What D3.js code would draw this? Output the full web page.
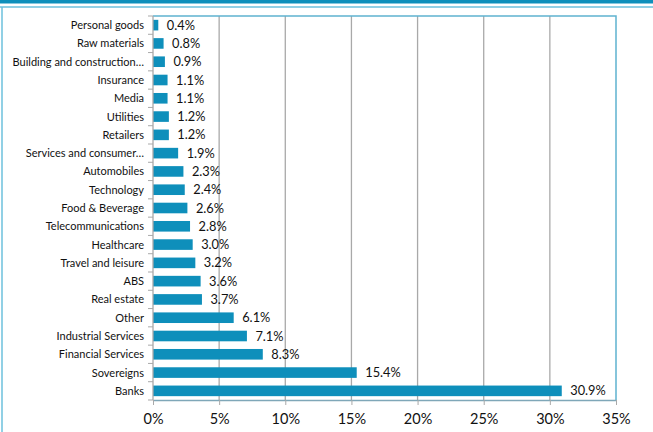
<!DOCTYPE html>
<html>
<head>
<meta charset="utf-8">
<script src="https://cdn.jsdelivr.net/npm/d3@7"></script>
<style>
  body { margin: 0; background: #fff; }
  text { font-family: Lato, "Open Sans", sans-serif; fill: #111; }
</style>
</head>
<body>
<div class="canvas"></div>
<script>
const categories = ['Personal goods', 'Raw materials', 'Building and construction…', 'Insurance', 'Media',
    'Utilities', 'Retailers', 'Services and consumer…', 'Automobiles', 'Technology', 'Food & Beverage',
    'Telecommunications', 'Healthcare', 'Travel and leisure', 'ABS', 'Real estate', 'Other',
    'Industrial Services', 'Financial Services', 'Sovereigns', 'Banks'];
const values = [0.4, 0.8, 0.9, 1.1, 1.1, 1.2, 1.2, 1.9, 2.3, 2.4, 2.6, 2.8, 3.0, 3.2, 3.6, 3.7, 6.1,
    7.1, 8.3, 15.4, 30.9];
const ticks = [0, 5, 10, 15, 20, 25, 30, 35];

const dims = { width: 653, height: 432 };
const plot = { left: 153, right: 616, top: 16, bottom: 400 };

const svg = d3.select('.canvas')
    .append('svg')
    .attr('width', dims.width)
    .attr('height', dims.height);

// header bands and outer left border
svg.append('rect').attr('x', 0).attr('y', 0).attr('width', dims.width).attr('height', 3.5).attr('fill', '#0e8fbb');
svg.append('line').attr('x1', 0).attr('x2', dims.width).attr('y1', 7).attr('y2', 7)
    .attr('stroke', '#6cc0dc').attr('stroke-width', 1.5);
svg.append('line').attr('x1', 2).attr('x2', 2).attr('y1', 7).attr('y2', dims.height)
    .attr('stroke', '#6cc0dc').attr('stroke-width', 1.5);

const x = d3.scaleLinear().domain([0, 35]).range([plot.left, plot.right]);
const y = d3.scaleBand().domain(categories).range([plot.top, plot.bottom]).paddingInner(0.42).paddingOuter(0.21);

// gridlines
svg.append('g')
    .selectAll('line')
    .data(ticks.slice(1, -1))
    .enter().append('line')
    .attr('x1', d => x(d)).attr('x2', d => x(d))
    .attr('y1', plot.top).attr('y2', plot.bottom)
    .attr('stroke', '#a9a9a9').attr('stroke-width', 1.3);

// plot frame top/right
svg.append('path')
    .attr('d', `M${plot.left},${plot.top}H${plot.right}V${plot.bottom}`)
    .attr('fill', 'none').attr('stroke', '#5fb3cf').attr('stroke-width', 1.5);

// bars
svg.append('g')
    .selectAll('rect')
    .data(values)
    .enter().append('rect')
    .attr('x', x(0))
    .attr('y', (d, i) => y(categories[i]))
    .attr('width', d => x(d) - x(0))
    .attr('height', y.bandwidth())
    .attr('fill', '#0e8fbb');

// value labels
svg.append('g')
    .selectAll('text')
    .data(values)
    .enter().append('text')
    .attr('x', d => x(d) + 8.5)
    .attr('y', (d, i) => y(categories[i]) + y.bandwidth() / 2)
    .attr('dy', '0.36em')
    .attr('font-size', 12.8)
    .text(d => d.toFixed(1) + '%');

// y axis
const yAxis = svg.append('g')
    .attr('transform', `translate(${plot.left},0)`);
yAxis.append('line').attr('x1', 0).attr('x2', 0).attr('y1', plot.top).attr('y2', plot.bottom)
    .attr('stroke', '#a9a9a9').attr('stroke-width', 1.3);
const step = (plot.bottom - plot.top) / categories.length;
yAxis.selectAll('.tk')
    .data(d3.range(categories.length + 1))
    .enter().append('line')
    .attr('x1', -5).attr('x2', 0)
    .attr('y1', i => plot.top + i * step).attr('y2', i => plot.top + i * step)
    .attr('stroke', '#a9a9a9');
yAxis.selectAll('text')
    .data(categories)
    .enter().append('text')
    .attr('x', -9)
    .attr('y', d => y(d) + y.bandwidth() / 2)
    .attr('dy', '0.36em')
    .attr('text-anchor', 'end')
    .attr('font-size', 11)
    .text(d => d);

// x axis
const xAxis = svg.append('g')
    .attr('transform', `translate(0,${plot.bottom})`)
    .call(d3.axisBottom(x).tickValues(ticks).tickSize(5).tickSizeOuter(0).tickFormat(d => d + '%'));
xAxis.select('.domain').attr('stroke', '#7fa7b8').attr('stroke-width', 1.5);
xAxis.selectAll('.tick line').attr('stroke', '#a9a9a9');
xAxis.selectAll('.tick text').attr('font-size', 14.5).attr('dy', '1.1em').attr('fill', '#111');
</script>
</body>
</html>
